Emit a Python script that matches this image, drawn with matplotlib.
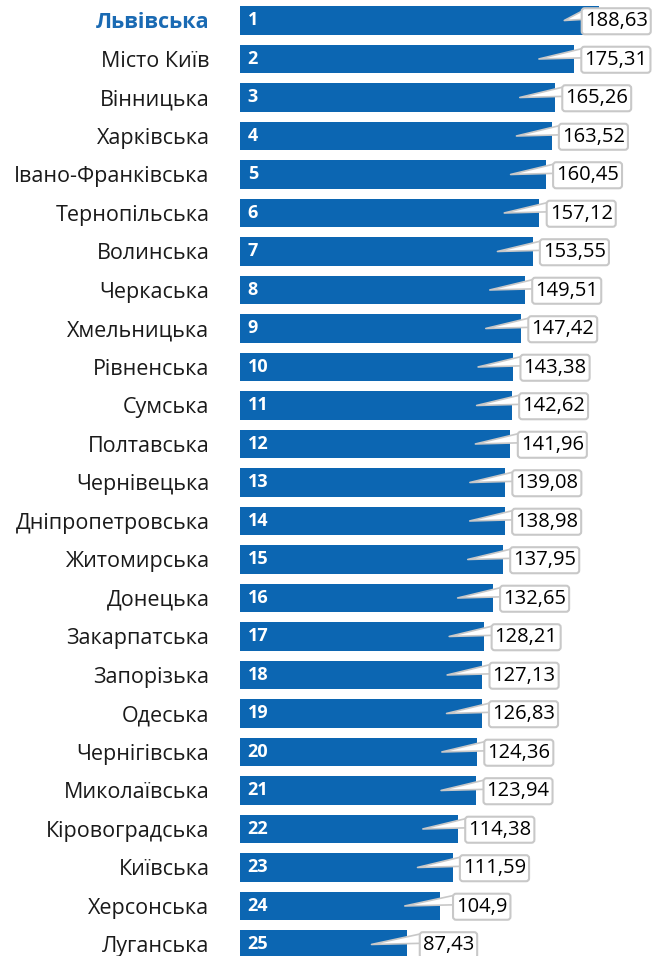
import matplotlib
matplotlib.use('Agg')
import matplotlib.pyplot as plt

regions = ['Львівська', 'Місто Київ', 'Вінницька', 'Харківська', 'Івано-Франківська',
           'Тернопільська', 'Волинська', 'Черкаська', 'Хмельницька', 'Рівненська',
           'Сумська', 'Полтавська', 'Чернівецька', 'Дніпропетровська', 'Житомирська',
           'Донецька', 'Закарпатська', 'Запорізька', 'Одеська', 'Чернігівська',
           'Миколаївська', 'Кіровоградська', 'Київська', 'Херсонська', 'Луганська']
values = [188.63, 175.31, 165.26, 163.52, 160.45, 157.12, 153.55, 149.51, 147.42, 143.38,
          142.62, 141.96, 139.08, 138.98, 137.95, 132.65, 128.21, 127.13, 126.83, 124.36,
          123.94, 114.38, 111.59, 104.9, 87.43]
ranks = list(range(1, len(values) + 1))

bar_color = '#0c66b2'
plt.rcParams['font.family'] = ['Open Sans', 'DejaVu Sans']

fig = plt.figure(figsize=(6.61, 9.56), dpi=100)
ax = fig.add_axes([240 / 661, 0, 421 / 661, 1])

pos = list(range(len(values)))
ax.barh(pos, values, height=0.75, color=bar_color)
ax.set_xlim(0, 221)
ax.set_ylim(24.30, -0.532)

ax.set_yticks(pos)
ax.set_yticklabels(regions, fontsize=15.5, color='#1a1a1a')
ax.tick_params(axis='y', length=0, pad=22)
ax.tick_params(axis='x', bottom=False, labelbottom=False)
for s in ax.spines.values():
    s.set_visible(False)
first = ax.get_yticklabels()[0]
first.set_fontweight('bold')
first.set_color('#1a6ab3')

for i, (r, v) in enumerate(zip(ranks, values)):
    ax.annotate(str(r), xy=(0, i), xytext=(5.5, 0), textcoords='offset points',
                ha='left', va='center', color='white', fontsize=13, fontweight='bold')
    label = str(v).replace('.', ',')
    ax.annotate(label, xy=(v - 18.4, i), xytext=(min(v + 22, 197.5), i + 0.02),
                textcoords='data', ha='center', va='center', fontsize=14.5, color='black',
                bbox=dict(boxstyle='round,pad=0.15', fc='white', ec='#c8c8c8', lw=1.5),
                arrowprops=dict(arrowstyle='wedge,tail_width=0.5', fc='white',
                                ec='#c8c8c8', lw=1.2, relpos=(0.03, 0.85),
                                patchA=None, shrinkA=0, shrinkB=0))

fig.savefig('out.png', dpi=100)
